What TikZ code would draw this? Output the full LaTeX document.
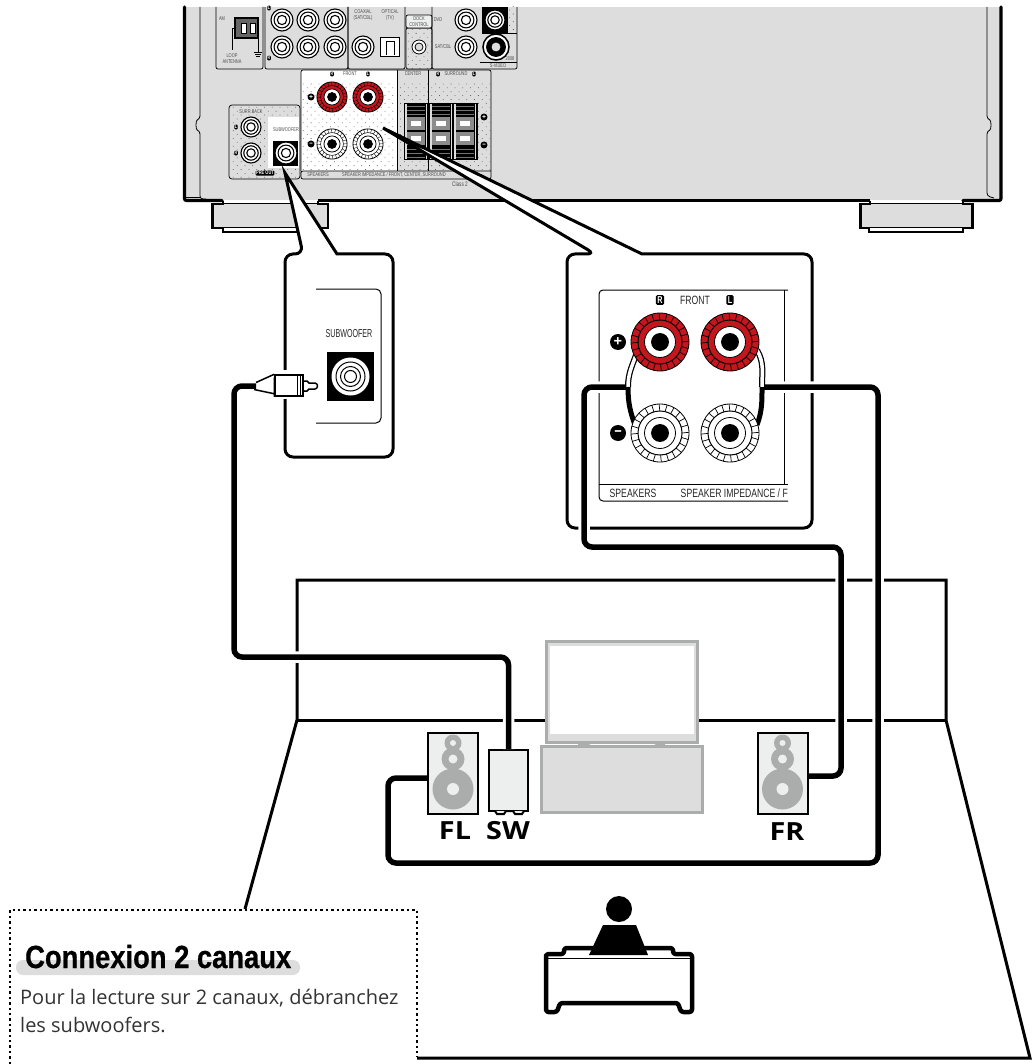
\documentclass[tikz,border=0pt]{standalone}
\usepackage{fontspec}
\setmainfont{Open Sans}
\newfontfamily\condfont[FakeStretch=.72]{Liberation Sans}
\newfontfamily\narrowfont[FakeStretch=.62]{Liberation Sans}
\newfontfamily\headfont[FakeStretch=.855,FakeBold=.6]{Liberation Sans}
\newfontfamily\spkfont[FakeStretch=1.15]{Open Sans}
\usetikzlibrary{patterns.meta}
\definecolor{chassis}{HTML}{DCDDDC}
\definecolor{boxgrey}{HTML}{EDEEEE}
\definecolor{tvgrey}{HTML}{ABADAC}
\definecolor{postred}{HTML}{C4161C}
\newcommand{\bindpost}[5]{
\node[post,minimum size=#5*58pt,fill=#4] (#1) at (#2,#3) {};
\draw[line width=#5*7pt,dash pattern=on #5*.7pt off #5*6pt] (#1) circle (#5*25.5pt);
\draw[line width=#5*1pt] (#1) circle (#5*22pt);
\node[post,minimum size=#5*31pt,fill=white] at (#1) {};
\node[post,minimum size=#5*17pt,fill=black] at (#1) {};
}
\newcommand{\jack}[4]{
\node[post,minimum size=#4*2pt,fill=white,line width=1.1pt] (#1) at (#2,#3) {};
\draw[line width=1.1pt] (#1) circle (#4*.72pt);
\draw[line width=1.1pt] (#1) circle (#4*.42pt);
}
\begin{document}
\begin{tikzpicture}[x=1pt,y=-1pt]
\tikzstyle{post}=[draw=black,circle,inner sep=0pt,line width=.8pt]
\tikzstyle{panel}=[draw=black,line width=.7pt,rounded corners=2pt]
\tikzstyle{dots}=[pattern={Dots[radius=.55pt,distance=5.5pt,angle=45]},pattern color=black!60]
\tikzstyle{tiny}=[inner sep=0pt,text=black!70,align=center,font=\condfont\fontsize{5.5}{6}\selectfont]
\tikzstyle{lab}=[inner sep=0pt,text=black!85,font=\condfont\fontsize{12}{13}\selectfont]
\tikzstyle{badge}=[fill=black,text=white,inner sep=.6pt,rounded corners=1pt,font=\condfont\bfseries\fontsize{5}{5}\selectfont]
\tikzstyle{bigbadge}=[fill=black,text=white,inner sep=1.5pt,rounded corners=1.5pt,font=\condfont\bfseries\fontsize{10}{10}\selectfont]
\tikzstyle{sign}=[fill=black,circle,text=white,inner sep=0pt,minimum size=16pt,font=\bfseries\fontsize{15}{15}\selectfont]
\tikzstyle{smallsign}=[fill=black,circle,text=white,inner sep=0pt,minimum size=7pt,font=\bfseries\fontsize{7}{7}\selectfont]
\tikzstyle{wall}=[draw=black,line width=3pt,line join=miter]
\tikzstyle{callout}=[draw=black,fill=white,line width=3pt]
\tikzstyle{inset}=[draw=black,line width=1pt]
\tikzstyle{cable}=[line width=5.5pt,rounded corners=8pt,preaction={draw=white,line width=11.5pt}]
\tikzstyle{spk}=[draw=black,fill=boxgrey,line width=2pt,inner sep=0pt]
\tikzstyle{cone}=[circle,fill=tvgrey,inner sep=0pt]
\tikzstyle{hole}=[circle,fill=boxgrey,inner sep=0pt]
\tikzstyle{spkname}=[inner sep=0pt,font=\spkfont\bfseries\fontsize{25}{25}\selectfont]
\tikzstyle{tv}=[draw=tvgrey,fill=chassis,line width=3pt]
\tikzstyle{notetext}=[inner sep=0pt,anchor=base west,text=black!80,font=\fontsize{20}{20}\selectfont]
\useasboundingbox (0,0) rectangle (1034,1064);

% receiver
\fill[chassis] (184,7) -- (184,200) -- (1002,200) -- (1002,7) -- cycle;
\draw[line width=3.2pt,line cap=round,rounded corners=2pt] (184.5,7) -- (184.5,200.5) -- (222,200.5);
\draw[line width=3.2pt,line cap=round,rounded corners=2pt] (1001,7) -- (1001,200.5) -- (963,200.5);
\draw[line width=3pt] (318,200.5) -- (870,200.5);
\draw[line width=.8pt,rounded corners=3pt] (200,7) -- (200,119) to[out=200,in=160] (200,131) -- (200,199) -- (206,199);
\draw[line width=.8pt,rounded corners=3pt] (987,7) -- (987,119) to[out=-20,in=20] (987,131) -- (987,196) -- (994,198);
\draw[line width=.8pt,rounded corners=3pt] (200,197) -- (184,197);
% feet
\fill[chassis] (212,204) rectangle (328,228);
\draw[line width=2.4pt] (223,201) -- (223,204) -- (212.5,204) -- (212.5,228) -- (223,228) -- (223,232) -- (318,232) -- (318,228) -- (328,228) -- (328,204) -- (318,204) -- (318,201);
\draw[line width=1pt] (223,228) -- (318,228);
\draw[line width=1pt] (223,204) -- (318,204);
\fill[chassis] (860,204) rectangle (973,228);
\draw[line width=2.4pt] (870,201) -- (870,204) -- (860.5,204) -- (860.5,228) -- (869,228) -- (869,232) -- (963,232) -- (963,228) -- (972.5,228) -- (972.5,204) -- (963,204) -- (963,201);
\draw[line width=1pt] (869,228) -- (963,228);
\draw[line width=1pt] (870,204) -- (963,204);

% upper panels
\draw[panel] (216,7) -- (216,69) -- (263,69) -- (263,7);
\draw[panel] (265,7) -- (265,69) -- (348,69) -- (348,7);
\draw[panel] (348,7) -- (348,69) -- (405,69) -- (405,7);
\draw[panel,dots] (406,69) rectangle (432,28);
\draw[panel,fill=boxgrey] (406,28) -- (406,15) -- (432,15) -- (432,28) -- cycle;
\draw[panel] (432,7) -- (432,69) -- (517,69) -- (517,7);
\node[tiny] (amlab) at (222,19) {AM};
\draw[fill=black!60,line width=1.5pt] (235,18) rectangle (258,38);
\draw[fill=white,line width=.8pt] (241,23) rectangle (246,33);
\draw[fill=white,line width=.8pt] (250,23) rectangle (255,33);
\draw[line width=.7pt] (235,28) -- (232,28) -- (232,50);
\draw[line width=.7pt] (258,30) -- (258,52);
\draw[line width=.7pt] (254,52) -- (262,52) (255,54) -- (261,54) (256,56) -- (260,56);
\node[tiny] (looplab) at (232,59) {LOOP\\ANTENNA};
\node[badge] (rcal) at (269,8) {L};
\node[badge] (rcar) at (269,58) {R};
\jack{ja}{282}{20}{11}
\jack{jb}{308}{20}{11}
\jack{jc}{335}{20}{11}
\jack{jd}{282}{47}{11}
\jack{je}{308}{47}{11}
\jack{jf}{335}{47}{11}
\node[tiny] (coaxlab) at (363,15) {COAXIAL\\(SAT/CBL)};
\node[tiny] (optlab) at (390,15) {OPTICAL\\(TV)};
\jack{jg}{363}{47}{11}
\node[draw=black,fill=white,line width=1.2pt,minimum size=19pt,inner sep=0pt] (optical) at (390,47) {};
\draw[line width=1pt] (386,55) -- (386,42) -- (394,42) -- (394,55);
\node[tiny] (docklab) at (419,22) {DOCK\\CONTROL};
\node[post,fill=white,minimum size=14pt] (dock) at (419,47) {};
\node[post,fill=chassis,minimum size=8pt] at (dock) {};
\node[tiny] (dvdlab) at (438,20) {DVD};
\node[tiny] (satlab) at (443,47) {SAT/CBL};
\jack{jh}{466}{20}{11}
\jack{ji}{466}{47}{11}
\fill[dots] (508,7) rectangle (517,33);
\fill[black] (482,7) rectangle (508,33);
\jack{jj}{495}{20}{10}
\draw[line width=.7pt] (482,33) -- (517,33);
\node[post,fill=white,minimum size=26pt,line width=1.5pt] (svideo) at (496,47) {};
\node[post,fill=black,minimum size=19pt] at (svideo) {};
\node[post,fill=chassis,minimum size=10pt] at (svideo) {};
\draw[line width=.7pt] (480,62) -- (517,62);
\node[tiny] (yearlab) at (510,59) {2008};
\node[tiny] (svlab) at (498,66) {S-VIDEO};

% speaker panels
\fill[white] (301,70) rectangle (397,171);
\fill[dots] (302,84) rectangle (396,170);
\fill[dots] (398,84) rectangle (490,170);
\draw[panel] (301,171) -- (301,70) -- (491,70) -- (491,179) -- (301,179) -- (301,171) -- (491,171);
\draw[line width=.7pt] (397,70) -- (397,171);
\draw[line width=.7pt] (428,70) -- (428,171);
\node[tiny] (splab) at (318,175) {SPEAKERS};
\node[tiny,anchor=west] (imped) at (342,175) {SPEAKER IMPEDANCE / FRONT, CENTER, SURROUND};
\node[tiny,anchor=west,font=\condfont\fontsize{6.5}{7}\selectfont] (classlab) at (452,184) {Class 2};
\node[badge] (frontr) at (332,74) {R};
\node[tiny] (frontlab) at (350,74) {FRONT};
\node[badge] (frontl) at (368,74) {L};
\bindpost{smallrp}{332}{97}{postred}{.52}
\bindpost{smalllp}{368}{97}{postred}{.52}
\bindpost{smallrn}{332}{144}{white}{.52}
\bindpost{smallln}{368}{144}{white}{.52}
\node[smallsign] (smallplus) at (311,97) {+};
\node[smallsign] (smallminus) at (311,144) {--};
\node[tiny] (centerlab) at (413,74) {CENTER};
\node[badge] (surr) at (438,74) {R};
\node[tiny] (surrlab) at (456,74) {SURROUND};
\node[badge] (surl) at (474,74) {L};
\fill[black] (404,103) rectangle (478,160);
\foreach \cx in {416,441,465} {
\draw[black!55,line width=.8pt] (\cx-9,106) -- (\cx+9,106) (\cx-9,110) -- (\cx+9,110) (\cx-9,114) -- (\cx+9,114);
\draw[black!55,line width=.8pt] (\cx-9,149) -- (\cx+9,149) (\cx-9,153) -- (\cx+9,153) (\cx-9,157) -- (\cx+9,157);
\fill[chassis] (\cx-11,104) rectangle (\cx-9.5,159);
\fill[chassis] (\cx+9.5,104) rectangle (\cx+11,159);
\fill[black!45] (\cx-9,117) rectangle (\cx+9,130);
\fill[black!45] (\cx-9,132) rectangle (\cx+9,145);
\fill[white] (\cx-5,121) rectangle (\cx+5,126);
\fill[white] (\cx-5,136) rectangle (\cx+5,141);
}
\node[smallsign] (blockplus) at (484,117) {+};
\node[smallsign] (blockminus) at (484,145) {--};

% pre out panel
\draw[panel,rounded corners=3pt,fill=chassis] (229,105) rectangle (300,179);
\fill[dots] (230,106) rectangle (299,178);
\fill[white] (268,117) rectangle (299,168);
\node[tiny] (surrback) at (251,112) {SURR.BACK};
\jack{jk}{251}{127}{10}
\jack{jl}{251}{153}{10}
\node[badge] (backl) at (236,127) {L};
\node[badge] (backr) at (236,153) {R};
\node[tiny] (swsmall) at (286,130) {SUBWOOFER};
\fill[black] (273,141) rectangle (298,166);
\jack{jm}{286}{153}{11}
\node[badge,font=\condfont\bfseries\fontsize{5.5}{5.5}\selectfont] (preout) at (265,173) {PRE OUT};

% room
\draw[wall] (245,909) -- (297,720) -- (297,580) -- (946,580) -- (946,720) -- (1030,1058) -- (417,1058);
\draw[wall] (297,720) -- (946,720);
\draw[line width=2.4pt,dash pattern=on 2.4pt off 3pt] (10,1064) -- (10,910) -- (417,910) -- (417,1057);

% callouts
\draw[callout] (303,254) -- (285,173) -- (337,254) [rounded corners=8pt] -- (393,254) -- (393,457) -- (285,457) -- (285,254) -- cycle;
\draw[callout] (595,254) -- (383,128) -- (642,254) [rounded corners=8pt] -- (812,254) -- (812,528) -- (567,528) -- (567,254) -- cycle;

% subwoofer inset
\draw[inset,rounded corners=5pt] (316,289) -- (381,289) -- (381,423) -- (316,423);
\node[lab,font=\narrowfont\fontsize{11.5}{12}\selectfont] (swlab) at (349,334) {SUBWOOFER};
\node[fill=black,inner sep=0pt,minimum width=47pt,minimum height=49pt] (swsocket) at (350.5,376.5) {};
\node[circle,fill=white,inner sep=0pt,minimum size=38pt] (swjack) at (350.5,376.5) {};
\draw[line width=1pt] (swjack) circle (14.5pt);
\draw[line width=1pt] (swjack) circle (10pt);
\draw[line width=1pt] (swjack) circle (6pt);

% speaker inset
\draw[inset,rounded corners=4pt] (788,290) -- (599,290) -- (599,501) -- (788,501);
\draw[inset] (599,484) -- (788,484);
\draw[inset] (784,290) -- (784,484);
\node[lab] (bigsplab) at (633,493) {SPEAKERS};
\node[lab,anchor=east] (bigimped) at (788,493) {SPEAKER IMPEDANCE / F};
\node[bigbadge] (bigr) at (660,300) {R};
\node[lab] (bigfront) at (695,300) {FRONT};
\node[bigbadge] (bigl) at (730,300) {L};
\node[sign] (plus) at (618,342) {+};
\node[sign] (minus) at (618,433) {--};

% cables
\coordinate (JL) at (628,387);
\coordinate (JR) at (762,387);
\coordinate (c1) at (584,547);
\coordinate (c2) at (841,776);
\coordinate (FRin) at (808,776);
\coordinate (c3) at (878,863);
\coordinate (c4) at (388,778);
\coordinate (FLin) at (428,778);
\coordinate (plugend) at (256,386);
\coordinate (c5) at (234,657);
\node[spk,minimum width=39pt,minimum height=61pt] (SW) at (508.5,780.5) {};
\draw[cable] (plugend) -| (c5) -| (SW.north);
\draw[cable] (JL) -| (c1) -| (c2) -- (FRin);
\draw[cable] (JR) -| (c3) -| (c4) -- (FLin);

% rca plug
\fill[white] (278,370) rectangle (292,399);
\draw[line width=1.5pt,fill=white,rounded corners=1pt] (303,381) -- (308,381) -- (308,383) -- (316,383) -- (318,386) -- (316,389) -- (308,389) -- (308,391) -- (303,391) -- cycle;
\node[draw=black,fill=white,line width=1.5pt,inner sep=0pt,minimum width=28pt,minimum height=21pt] (plug) at (289,385.5) {};
\draw[line width=1.5pt,fill=white] (plugend) ++(0,-3.5) -- (plug.north west) ++(0,3) -- (plug.south west) ++(0,-3) -- (254,389.5) -- cycle;
\draw[line width=1pt] (297,375) -- (297,396);
\draw[line width=1pt] (300,375) -- (300,396);

% speaker wires
\draw[line width=6pt] (636,355) to[out=250,in=90] (JL);
\draw[line width=3.5pt,white] (636,355) to[out=250,in=90] (JL);
\draw[line width=5pt] (JL) to[out=-90,in=110] (635,425);
\draw[line width=6pt] (757,350) to[out=-60,in=90] (JR);
\draw[line width=3.5pt,white] (757,350) to[out=-60,in=90] (JR);
\draw[line width=5pt] (JR) to[out=-90,in=70] (757,425);
\bindpost{rp}{660}{342}{postred}{1}
\bindpost{lp}{730}{342}{postred}{1}
\bindpost{rn}{660}{433}{white}{1}
\bindpost{ln}{730}{433}{white}{1}

% tv
\node[tv,inner sep=0pt,minimum width=151pt,minimum height=101pt] (screen) at (621.5,691.5) {};
\fill[white] (550,646) rectangle (694,734);
\fill[tvgrey] (578,741) -- (595,741) -- (595,743) -- (588,745) -- (578,745) -- cycle;
\fill[tvgrey] (649,741) -- (665,741) -- (665,745) -- (656,745) -- cycle;
\node[tv,inner sep=0pt,minimum width=161pt,minimum height=66pt] (stand) at (621.5,779.5) {};

% speakers
\node[spk,minimum width=50pt,minimum height=81pt] (FL) at (453,773.5) {};
\node[cone,minimum size=17pt] (FLa) at (453,743) {};
\node[cone,minimum size=23pt] (FLb) at (453,759) {};
\node[cone,minimum size=41pt] (FLc) at (453,789) {};
\node[hole,minimum size=6pt] at (FLa) {};
\node[hole,minimum size=9pt] at (FLb) {};
\node[hole,minimum size=12pt] at (FLc) {};
\node[spk,minimum width=50pt,minimum height=81pt] (FR) at (782.5,773.5) {};
\node[cone,minimum size=17pt] (FRa) at (782.5,743) {};
\node[cone,minimum size=23pt] (FRb) at (782.5,759) {};
\node[cone,minimum size=41pt] (FRc) at (782.5,789) {};
\node[hole,minimum size=6pt] at (FRa) {};
\node[hole,minimum size=9pt] at (FRb) {};
\node[hole,minimum size=12pt] at (FRc) {};
\draw[line width=2pt,fill=boxgrey] (495,811) -- (497,814) -- (504,814) -- (506,811) -- (513,811) -- (515,814) -- (522,814) -- (524,811);
\node[spkname] (FLname) at (455,831) {FL};
\node[spkname] (SWname) at (508,831) {SW};
\node[spkname] (FRname) at (787,832) {FR};

% listener
\node[circle,fill=black,inner sep=0pt,minimum size=26pt] (head) at (619,909) {};
\draw[line width=1pt] (546,958) -- (692,958);
\draw[line width=4.5pt,rounded corners=2.5pt,line join=round] (546,958) -- (546,1012) -- (557,1012) -- (560,1003) -- (678,1003) -- (681,1012) -- (692,1012) -- (692,954) -- (673,954) -- (673,948) -- (564,948) -- (564,954) -- (546,954) -- cycle;
\fill[black] (603,925) -- (636,925) -- (648,955) -- (589,955) -- cycle;

% note
\fill[chassis,rounded corners=7pt] (16,960) rectangle (300,975);
\node[inner sep=0pt,anchor=base west,font=\headfont\bfseries\fontsize{32}{32}\selectfont] (notehead) at (25,968) {Connexion 2 canaux};
\node[notetext] (noteone) at (20,1004) {Pour la lecture sur 2 canaux, débranchez};
\node[notetext] (notetwo) at (20,1032) {les subwoofers.};
\end{tikzpicture}
\end{document}
